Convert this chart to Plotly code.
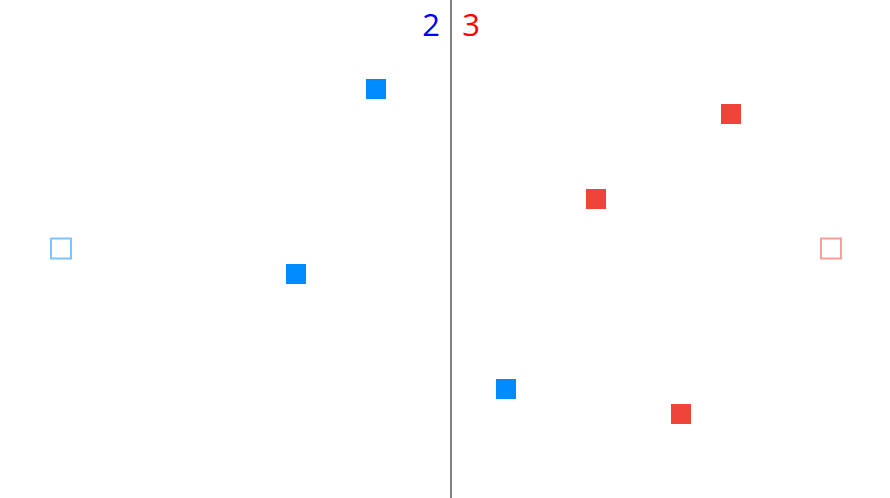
import plotly.graph_objects as go

# canvas-style coordinates (x to the right, y downward)
blue_x = [376, 296, 506]
blue_y = [89, 274, 389]
red_x = [731, 596, 681]
red_y = [114, 199, 414]
open_blue = (61, 248.5)
open_red = (831, 248.5)
divider_x = 451
labels = ["2", "3"]
label_x = [431, 471]
label_y = 28

BLUE = "#008cff"
RED = "#f0443a"

fig = go.Figure()
fig.add_trace(go.Scatter(x=[divider_x, divider_x], y=[0, 498], mode="lines",
                         line=dict(color="#808080", width=2), hoverinfo="skip"))
fig.add_trace(go.Scatter(x=blue_x, y=blue_y, mode="markers",
                         marker=dict(symbol="square", size=20, color=BLUE, line=dict(width=0))))
fig.add_trace(go.Scatter(x=red_x, y=red_y, mode="markers",
                         marker=dict(symbol="square", size=20, color=RED, line=dict(width=0))))
fig.add_trace(go.Scatter(x=[open_blue[0]], y=[open_blue[1]], mode="markers", opacity=0.5,
                         marker=dict(symbol="square-open", size=20, color=BLUE, line=dict(width=2, color=BLUE))))
fig.add_trace(go.Scatter(x=[open_red[0]], y=[open_red[1]], mode="markers", opacity=0.5,
                         marker=dict(symbol="square-open", size=20, color=RED, line=dict(width=2, color=RED))))
fig.add_trace(go.Scatter(x=label_x, y=[label_y, label_y], mode="text", text=labels,
                         textposition="middle center",
                         textfont=dict(size=31, color=["#0000ff", "#ff0000"], family="Open Sans")))

fig.update_layout(
    width=890, height=498, margin=dict(l=0, r=0, t=0, b=0),
    paper_bgcolor="white", plot_bgcolor="white", showlegend=False,
    xaxis=dict(range=[0, 890], visible=False, fixedrange=True),
    yaxis=dict(range=[498, 0], visible=False, fixedrange=True),
)
fig.write_html("out.html")
